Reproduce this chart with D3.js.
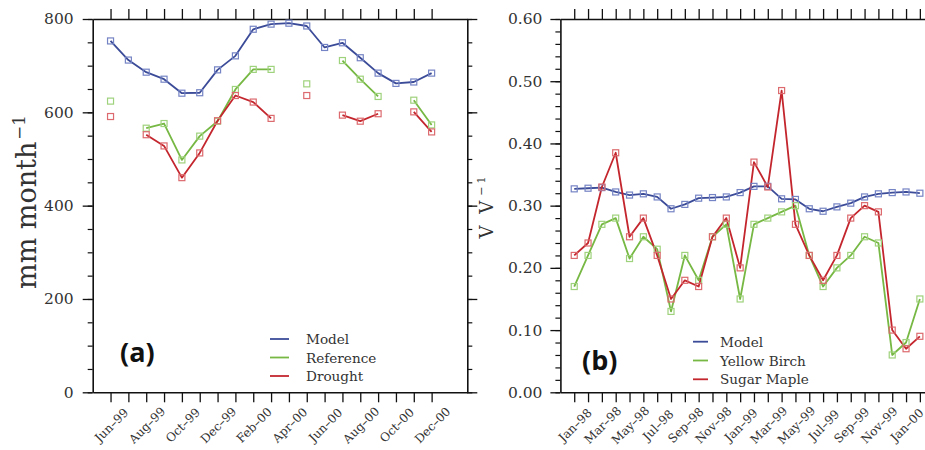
<!DOCTYPE html>
<html><head><meta charset="utf-8">
<script src="https://cdn.jsdelivr.net/npm/d3@7/dist/d3.min.js"></script>
<style>body{margin:0;background:#fff} svg{display:block}</style>
</head><body>
<svg id="c" width="925" height="450"></svg>
<script>
// ---------- data ----------
const monthsA = ["Jun-99","Jul-99","Aug-99","Sep-99","Oct-99","Nov-99","Dec-99","Jan-00","Feb-00","Mar-00","Apr-00","May-00","Jun-00","Jul-00","Aug-00","Sep-00","Oct-00","Nov-00","Dec-00"];
const modelA     = [753,712,686,671,641,642,691,721,778,789,791,785,739,749,717,684,662,665,684];
const referenceA = [624,null,566,576,498,549,581,649,692,692,null,661,null,711,671,634,null,626,573];
const droughtA   = [591,null,552,528,460,513,582,636,622,587,null,636,null,594,581,597,null,601,558];
const yTicksA = [0,200,400,600,800];

const monthsB = ["Jan-98","Feb-98","Mar-98","Apr-98","May-98","Jun-98","Jul-98","Aug-98","Sep-98","Oct-98","Nov-98","Dec-98","Jan-99","Feb-99","Mar-99","Apr-99","May-99","Jun-99","Jul-99","Aug-99","Sep-99","Oct-99","Nov-99","Dec-99","Jan-00","Feb-00"];
const modelB = [0.327,0.328,0.329,0.322,0.317,0.319,0.314,0.295,0.302,0.312,0.313,0.314,0.321,0.331,0.331,0.311,0.310,0.295,0.291,0.298,0.304,0.314,0.319,0.321,0.322,0.320];
const birchB = [0.17,0.22,0.27,0.28,0.215,0.25,0.23,0.13,0.22,0.18,0.25,0.27,0.15,0.27,0.28,0.29,0.30,0.22,0.17,0.20,0.22,0.25,0.24,0.06,0.08,0.15];
const mapleB = [0.22,0.24,0.33,0.385,0.25,0.28,0.22,0.15,0.18,0.17,0.25,0.28,0.20,0.37,0.33,0.485,0.27,0.22,0.18,0.22,0.28,0.30,0.29,0.10,0.07,0.09];
const yTicksB = [0,0.1,0.2,0.3,0.4,0.5,0.6];

const seriesNamesA = ["Model","Reference","Drought"];
const seriesNamesB = ["Model","Yellow Birch","Sugar Maple"];
const lineColors = ["#3b4b98","#76b843","#c4262e"];
const markColors = ["#7584c4","#9fd27c","#dc6a6e"];

const svg = d3.select("#c");
const FONT = "'DejaVu Serif', serif";

function panel(cfg){
  const g = svg.append("g");
  const x = d3.scaleLinear().domain(cfg.xDomain).range([cfg.left, cfg.right]);
  const y = d3.scaleLinear().domain(cfg.yDomain).range([cfg.bottom, cfg.top]);
  const idx = cfg.months.map((d,i)=>i);

  const styleAxis = (sel) => {
    sel.select(".domain").attr("stroke","#111").attr("stroke-width",1.6);
    sel.selectAll(".tick line").attr("stroke","#111").attr("stroke-width",1.3);
    sel.selectAll(".tick text").attr("font-family",FONT).attr("font-size",15.5).attr("fill","#333");
  };
  const minor = d3.range(cfg.yDomain[0], cfg.yDomain[1] + cfg.minorStep/2, cfg.minorStep);

  // minor y ticks
  g.append("g").attr("transform",`translate(${cfg.left},0)`)
    .call(d3.axisLeft(y).tickValues(minor).tickSize(5).tickFormat(""))
    .call(s=>{s.select(".domain").remove(); s.selectAll("line").attr("stroke","#111").attr("stroke-width",1.2);});
  g.append("g").attr("transform",`translate(${cfg.right},0)`)
    .call(d3.axisRight(y).tickValues(minor).tickSize(5).tickFormat(""))
    .call(s=>{s.select(".domain").remove(); s.selectAll("line").attr("stroke","#111").attr("stroke-width",1.2);});

  g.append("g").attr("transform",`translate(${cfg.left},0)`)
    .call(d3.axisLeft(y).tickValues(cfg.yTicks).tickSize(10).tickSizeOuter(0).tickPadding(cfg.pad).tickFormat(cfg.fmt))
    .call(styleAxis);
  g.append("g").attr("transform",`translate(${cfg.right},0)`)
    .call(d3.axisRight(y).tickValues(cfg.yTicks).tickSize(10).tickSizeOuter(0).tickFormat(""))
    .call(styleAxis);
  g.append("g").attr("transform",`translate(0,${cfg.top})`)
    .call(d3.axisTop(x).tickValues(idx).tickSize(10).tickSizeOuter(0).tickFormat(""))
    .call(styleAxis);
  g.append("g").attr("transform",`translate(0,${cfg.bottom})`)
    .call(d3.axisBottom(x).tickValues(idx).tickSize(10).tickSizeOuter(0).tickFormat(""))
    .call(styleAxis);

  // rotated x labels
  g.selectAll(".xl").data(idx.filter(i=>i%2===0)).join("text")
    .attr("transform", i=>`translate(${x(i)+1},${cfg.bottom+33}) rotate(-45)`)
    .attr("text-anchor","middle").attr("dominant-baseline","central")
    .attr("font-family",FONT).attr("font-size",12).attr("fill","#333")
    .text(i=>cfg.months[i].replace("-","\u2013"));

  // series
  cfg.series.forEach((s,k)=>{
    const line = d3.line().defined(d=>d!=null).x((d,i)=>x(i)).y(d=>y(d));
    g.append("path").datum(s).attr("d",line).attr("fill","none")
      .attr("stroke",lineColors[k]).attr("stroke-width",1.8).attr("stroke-linejoin","round");
  });
  cfg.series.forEach((s,k)=>{
    g.selectAll(null).data(s.map((v,i)=>({v,i})).filter(d=>d.v!=null)).join("rect")
      .attr("x",d=>x(d.i)-3).attr("y",d=>y(d.v)-3).attr("width",6).attr("height",6)
      .attr("fill","none").attr("stroke",markColors[k]).attr("stroke-width",1.2);
  });

  // legend
  cfg.names.forEach((n,k)=>{
    const ly = cfg.legY + k*cfg.legDy;
    g.append("line").attr("x1",cfg.legX).attr("x2",cfg.legX+cfg.legW).attr("y1",ly).attr("y2",ly)
      .attr("stroke",lineColors[k]).attr("stroke-width",1.8);
    g.append("text").attr("x",cfg.legTextX).attr("y",ly+5)
      .attr("font-family",FONT).attr("font-size",13.6).attr("fill","#333").text(n);
  });

  // panel label
  g.append("text").attr("x",cfg.labX).attr("y",cfg.labY)
    .attr("font-family","'Open Sans', sans-serif").attr("font-weight",700).attr("font-size",27).attr("fill","#111")
    .text(cfg.label);

  // y title
  const t = g.append("text").attr("transform",`translate(${cfg.titleX},${cfg.titleY}) rotate(-90)`)
    .attr("text-anchor","middle").attr("font-family",FONT).attr("font-size",cfg.titleSize).attr("fill","#333")
    .attr("letter-spacing",cfg.titleSpacing);
  t.append("tspan").text(cfg.title);
  t.append("tspan").attr("font-size",cfg.titleSize*0.62).attr("dy",-cfg.titleSize*0.42).attr("dx",2).text("\u22121");
}

panel({
  left:92.7, right:467.3, top:19, bottom:392.3, xDomain:[-1,20], yDomain:[0,800],
  yTicks:yTicksA, minorStep:50, pad:9, fmt:d3.format("d"), months:monthsA,
  series:[modelA, referenceA, droughtA], names:seriesNamesA,
  legX:270, legW:19, legTextX:306, legY:339, legDy:18.5,
  label:"(a)", labX:120, labY:362,
  title:"mm month", titleX:36, titleY:202, titleSize:27, titleSpacing:0
});
panel({
  left:560.4, right:933.7, top:19, bottom:392.3, xDomain:[-1,26], yDomain:[0,0.6],
  yTicks:yTicksB, minorStep:0.02, pad:8, fmt:d3.format(".2f"), months:monthsB,
  series:[modelB, birchB, mapleB], names:seriesNamesB,
  legX:693, legW:15, legTextX:720, legY:341.7, legDy:18.8,
  label:"(b)", labX:582, labY:370,
  title:"V V", titleX:493, titleY:206, titleSize:18, titleSpacing:3
});
</script>
</body></html>
